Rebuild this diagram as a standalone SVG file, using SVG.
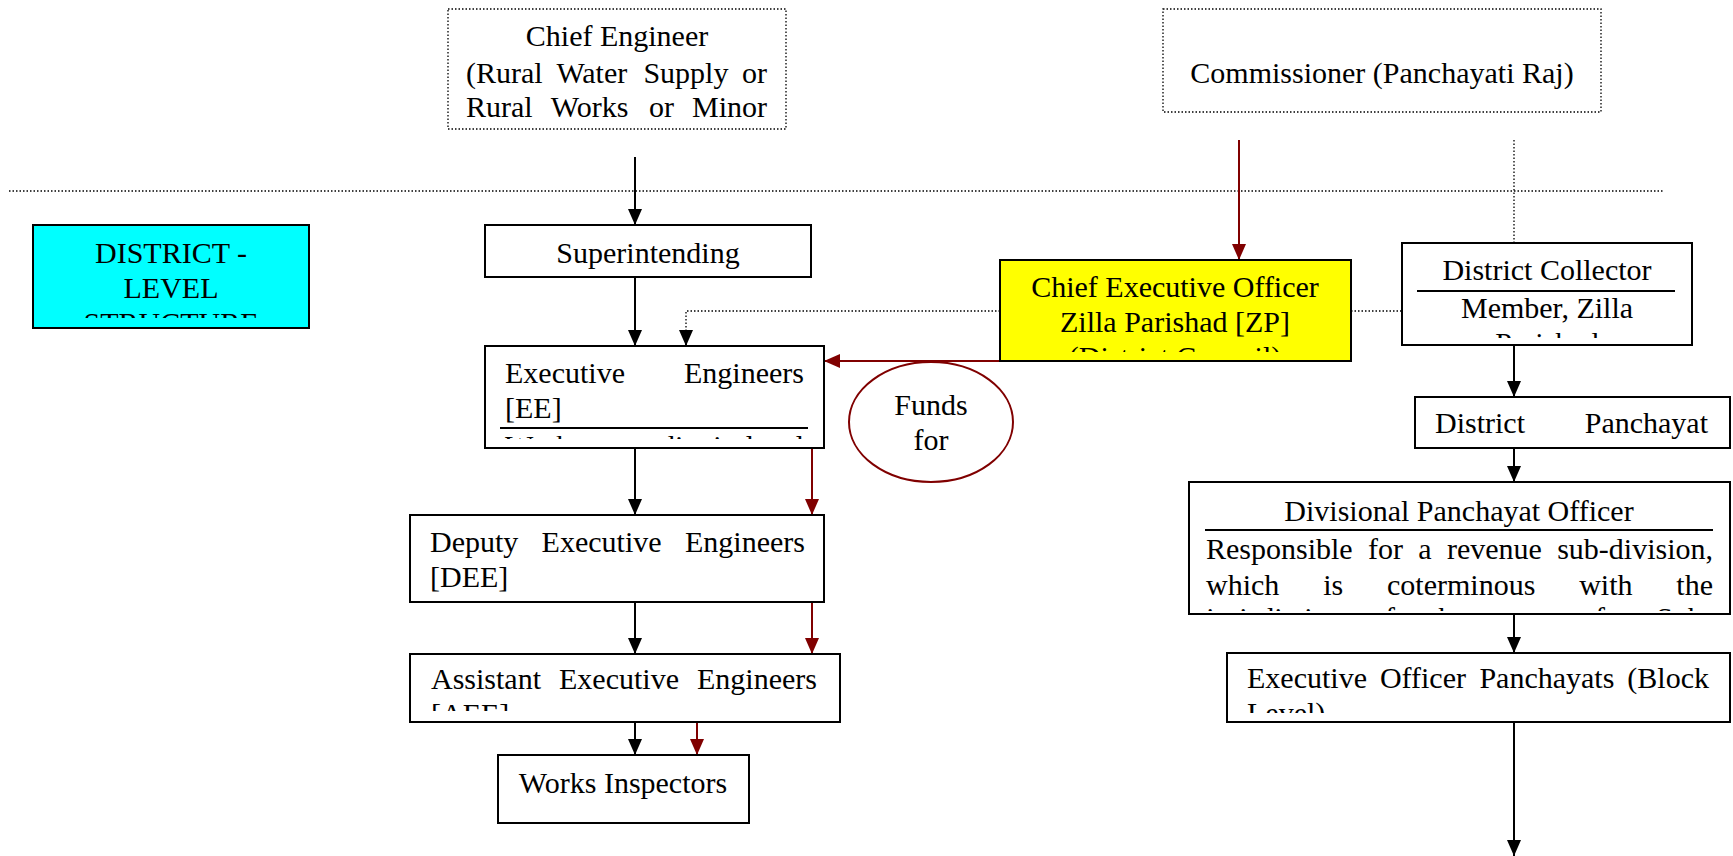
<svg xmlns="http://www.w3.org/2000/svg" width="1733" height="856" viewBox="0 0 1733 856">
<style>
text{font-family:"Liberation Serif","Times New Roman",serif;font-size:30px;fill:#000}
.box{fill:#fff;stroke:#000;stroke-width:2}
.dotbox{fill:#fff;stroke:#000;stroke-width:1.3;stroke-dasharray:1.5,2}
.dot{fill:none;stroke:#000;stroke-width:1.3;stroke-dasharray:1.5,2}
.blk{fill:none;stroke:#000;stroke-width:2}
.red{fill:none;stroke:#800000;stroke-width:2}
.c{text-anchor:middle}
.e{text-anchor:end}
</style>
<defs>
<marker id="ab" markerUnits="userSpaceOnUse" markerWidth="16" markerHeight="16" refX="16" refY="7" orient="auto"><path d="M0,0 L16,7 L0,14 z" fill="#000"/></marker>
<marker id="ar" markerUnits="userSpaceOnUse" markerWidth="16" markerHeight="16" refX="16" refY="7" orient="auto"><path d="M0,0 L16,7 L0,14 z" fill="#800000"/></marker>
<clipPath id="cDist"><rect x="33" y="225" width="276" height="93"/></clipPath>
<clipPath id="cCE"><rect x="448" y="9" width="338" height="113"/></clipPath>
<clipPath id="cCEO"><rect x="1000" y="260" width="351" height="92"/></clipPath>
<clipPath id="cDC"><rect x="1402" y="243" width="290" height="95"/></clipPath>
<clipPath id="cEE"><rect x="485" y="346" width="339" height="93"/></clipPath>
<clipPath id="cAEE"><rect x="410" y="654" width="430" height="57"/></clipPath>
<clipPath id="cDPO"><rect x="1189" y="482" width="541" height="129"/></clipPath>
<clipPath id="cEOP"><rect x="1227" y="653" width="503" height="60"/></clipPath>
</defs>

<g id="divider">
<line class="dot" x1="9" y1="191" x2="1663" y2="191"/>
</g>

<g id="connectors">
<line class="blk" x1="635" y1="157" x2="635" y2="225" marker-end="url(#ab)"/>
<line class="red" x1="1239" y1="140" x2="1239" y2="260" marker-end="url(#ar)"/>
<line class="dot" x1="1514" y1="140" x2="1514" y2="243"/>
<line class="blk" x1="635" y1="277" x2="635" y2="346" marker-end="url(#ab)"/>
<polyline class="dot" points="1000,311 686,311 686,330"/>
<line class="blk" x1="686" y1="330" x2="686" y2="346" marker-end="url(#ab)"/>
<line class="dot" x1="1351" y1="311" x2="1402" y2="311"/>
<line class="red" x1="1000" y1="361" x2="824" y2="361" marker-end="url(#ar)"/>
<line class="blk" x1="635" y1="448" x2="635" y2="515" marker-end="url(#ab)"/>
<line class="red" x1="812" y1="448" x2="812" y2="515" marker-end="url(#ar)"/>
<line class="blk" x1="635" y1="602" x2="635" y2="654" marker-end="url(#ab)"/>
<line class="red" x1="812" y1="602" x2="812" y2="654" marker-end="url(#ar)"/>
<line class="blk" x1="635" y1="722" x2="635" y2="755" marker-end="url(#ab)"/>
<line class="red" x1="697" y1="722" x2="697" y2="755" marker-end="url(#ar)"/>
<line class="blk" x1="1514" y1="345" x2="1514" y2="397" marker-end="url(#ab)"/>
<line class="blk" x1="1514" y1="448" x2="1514" y2="482" marker-end="url(#ab)"/>
<line class="blk" x1="1514" y1="614" x2="1514" y2="653" marker-end="url(#ab)"/>
<line class="blk" x1="1514" y1="722" x2="1514" y2="856" marker-end="url(#ab)"/>
</g>

<g id="chief-engineer">
<rect class="dotbox" x="448" y="9" width="338" height="120"/>
<g clip-path="url(#cCE)">
<text x="617" y="46" class="c">Chief Engineer</text>
<text y="83"><tspan x="466">(Rural</tspan><tspan x="556.4">Water</tspan><tspan x="643.4">Supply</tspan><tspan x="767" class="e">or</tspan></text>
<text y="117"><tspan x="466">Rural</tspan><tspan x="550.8">Works</tspan><tspan x="648.9">or</tspan><tspan x="767" class="e">Minor</tspan></text>
</g>
</g>

<g id="commissioner">
<rect class="dotbox" x="1163" y="9" width="438" height="103"/>
<text x="1382" y="83" class="c">Commissioner (Panchayati Raj)</text>
</g>

<g id="district-level">
<rect x="33" y="225" width="276" height="103" fill="#00FFFF" stroke="#000" stroke-width="2"/>
<g clip-path="url(#cDist)">
<text x="171" y="263" class="c">DISTRICT -</text>
<text x="171" y="298" class="c">LEVEL</text>
<text x="171" y="333" class="c">STRUCTURE</text>
</g>
</g>

<g id="superintending">
<rect class="box" x="485" y="225" width="326" height="52"/>
<text x="648" y="263" class="c">Superintending</text>
</g>

<g id="ceo">
<rect x="1000" y="260" width="351" height="101" fill="#FFFF00" stroke="#000" stroke-width="2"/>
<g clip-path="url(#cCEO)">
<text x="1175" y="297" class="c">Chief Executive Officer</text>
<text x="1175" y="332" class="c">Zilla Parishad [ZP]</text>
<text x="1175" y="367" class="c">(District Council)</text>
</g>
</g>

<g id="district-collector">
<rect class="box" x="1402" y="243" width="290" height="102"/>
<g clip-path="url(#cDC)">
<text x="1547" y="280" class="c">District Collector</text>
<line x1="1417" y1="291" x2="1675" y2="291" stroke="#000" stroke-width="2"/>
<text x="1547" y="318" class="c">Member, Zilla</text>
<text x="1547" y="353" class="c">Parishad</text>
</g>
</g>

<g id="executive-engineers">
<rect class="box" x="485" y="346" width="339" height="102"/>
<g clip-path="url(#cEE)">
<text y="383"><tspan x="505">Executive</tspan><tspan x="804" class="e">Engineers</tspan></text>
<text x="505" y="418">[EE]</text>
<line x1="500" y1="428" x2="808" y2="428" stroke="#000" stroke-width="2"/>
<text y="456"><tspan x="505">Works</tspan><tspan x="610">at</tspan><tspan x="660">district</tspan><tspan x="804" class="e">level</tspan></text>
</g>
</g>

<g id="funds">
<ellipse cx="931" cy="422" rx="82" ry="60" fill="#fff" stroke="#800000" stroke-width="2"/>
<text x="931" y="415" class="c">Funds</text>
<text x="931" y="450" class="c">for</text>
</g>

<g id="deputy-ee">
<rect class="box" x="410" y="515" width="414" height="87"/>
<text y="552"><tspan x="430">Deputy</tspan><tspan x="541.6">Executive</tspan><tspan x="805" class="e">Engineers</tspan></text>
<text x="430" y="587">[DEE]</text>
</g>

<g id="assistant-ee">
<rect class="box" x="410" y="654" width="430" height="68"/>
<g clip-path="url(#cAEE)">
<text y="689"><tspan x="431">Assistant</tspan><tspan x="559">Executive</tspan><tspan x="817" class="e">Engineers</tspan></text>
<text x="431" y="724">[AEE]</text>
</g>
</g>

<g id="works-inspectors">
<rect class="box" x="498" y="755" width="251" height="68"/>
<text x="623" y="793" class="c">Works Inspectors</text>
</g>

<g id="district-panchayat">
<rect class="box" x="1415" y="397" width="315" height="51"/>
<text y="433"><tspan x="1435">District</tspan><tspan x="1708" class="e">Panchayat</tspan></text>
</g>

<g id="divisional-panchayat-officer">
<rect class="box" x="1189" y="482" width="541" height="132"/>
<g clip-path="url(#cDPO)">
<text x="1459" y="521" class="c">Divisional Panchayat Officer</text>
<line x1="1205" y1="530" x2="1713" y2="530" stroke="#000" stroke-width="2"/>
<text y="559"><tspan x="1206">Responsible</tspan><tspan x="1368">for</tspan><tspan x="1418.3">a</tspan><tspan x="1446.9">revenue</tspan><tspan x="1713" class="e">sub-division,</tspan></text>
<text y="595"><tspan x="1206">which</tspan><tspan x="1323.2">is</tspan><tspan x="1387">coterminous</tspan><tspan x="1579.2">with</tspan><tspan x="1713" class="e">the</tspan></text>
<text y="628"><tspan x="1206">jurisdiction</tspan><tspan x="1370">of</tspan><tspan x="1430">the</tspan><tspan x="1500">area</tspan><tspan x="1580">of</tspan><tspan x="1713" class="e">Sub-</tspan></text>
</g>
</g>

<g id="executive-officer-panchayats">
<rect class="box" x="1227" y="653" width="503" height="69"/>
<g clip-path="url(#cEOP)">
<text y="688"><tspan x="1247">Executive</tspan><tspan x="1379.9">Officer</tspan><tspan x="1479.4">Panchayats</tspan><tspan x="1709" class="e">(Block</tspan></text>
<text x="1247" y="723">Level)</text>
</g>
</g>
</svg>
